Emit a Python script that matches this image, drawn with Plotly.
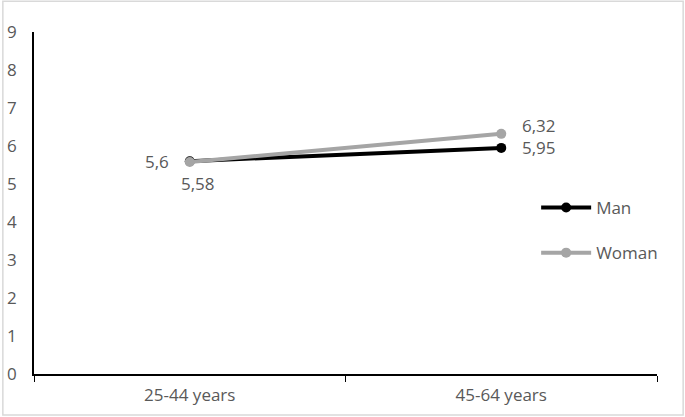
import plotly.graph_objects as go

categories = ["25-44 years", "45-64 years"]
man = [5.6, 5.95]
woman = [5.58, 6.32]
y_ticks = [0, 1, 2, 3, 4, 5, 6, 7, 8, 9]

# label offsets in pixels (style, not data)
man_shift = [(-33, 0), (38, 0)]
woman_shift = [(8, -22), (38, 8)]

def fmt(v):
    return str(v).replace(".", ",")

FONT = "Open Sans"
TXT = "#595959"
FS = 17

fig = go.Figure()
fig.add_trace(go.Scatter(
    x=categories, y=man, name="Man", mode="lines+markers", legendgroup="m",
    line=dict(color="#000000", width=4), marker=dict(color="#000000", size=10),
))
fig.add_trace(go.Scatter(
    x=categories, y=woman, name="Woman", mode="lines+markers", legendgroup="w",
    line=dict(color="#a5a5a5", width=4), marker=dict(color="#a5a5a5", size=10),
))

annotations = []
for vals, shifts in ((man, man_shift), (woman, woman_shift)):
    for c, v, (dx, dy) in zip(categories, vals, shifts):
        annotations.append(dict(x=c, y=v, xref="x", yref="y", text=fmt(v),
                                showarrow=False, xshift=dx, yshift=dy,
                                font=dict(family=FONT, size=FS, color=TXT)))

fig.update_layout(
    width=685, height=417,
    margin=dict(l=34, r=28, t=32, b=43),
    paper_bgcolor="white", plot_bgcolor="white",
    font=dict(family=FONT, size=FS, color=TXT),
    showlegend=True,
    legend=dict(x=0.806, y=0.538, xanchor="left", yanchor="top",
                font=dict(family=FONT, size=FS, color=TXT),
                traceorder="grouped", tracegroupgap=20, itemwidth=50,
                bgcolor="rgba(0,0,0,0)"),
    xaxis=dict(type="category", range=[-0.5, 1.5], showgrid=False,
               showline=True, linecolor="#000000", linewidth=1.5,
               tickson="boundaries", ticks="outside", ticklen=6, tickcolor="#000000",
               tickfont=dict(family=FONT, size=FS, color=TXT), zeroline=False,
               ticklabelstandoff=5, automargin=False),
    yaxis=dict(range=[0, 9], tickvals=y_ticks, showgrid=False,
               showline=True, linecolor="#000000", linewidth=1.5,
               ticks="", tickfont=dict(family=FONT, size=FS, color=TXT),
               ticklabelstandoff=12, zeroline=False, automargin=False),
    annotations=annotations,
    shapes=[dict(type="rect", xref="paper", yref="paper",
                 x0=-0.05, x1=1.042, y0=-0.12, y1=1.09,
                 line=dict(color="#d9d9d9", width=1.5), fillcolor="rgba(0,0,0,0)", layer="below")],
)

fig.write_html("out.html", config={"displayModeBar": False},
               post_script="document.body.style.margin='0';")
